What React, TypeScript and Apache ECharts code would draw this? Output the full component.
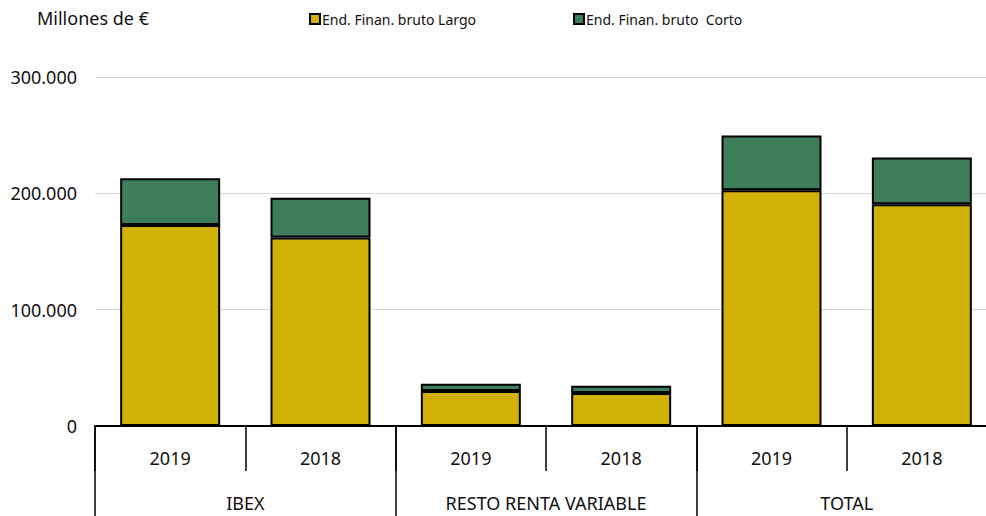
import React, { useEffect, useRef } from "react";
import * as echarts from "echarts";

const years = ["2019", "2018", "2019", "2018", "2019", "2018"];
const groups = ["IBEX", "RESTO RENTA VARIABLE", "TOTAL"];
const largo = [172700, 162100, 30000, 28300, 202700, 190600];
const corto = [40200, 34100, 6300, 6300, 47000, 40300];
const seriesNames = ["End. Finan. bruto Largo", "End. Finan. bruto  Corto"];
const yTicks = { min: 0, max: 300000, interval: 100000 };

const FONT = "'Noto Sans', 'Open Sans', sans-serif";

function fmt(v: number): string {
  return String(Math.round(v)).replace(/\B(?=(\d{3})+(?!\d))/g, ".");
}

export default function App() {
  const ref = useRef<HTMLDivElement>(null);
  useEffect(() => {
    if (!ref.current) return;
    const chart = echarts.init(ref.current, undefined, { renderer: "svg" });
    const legendText = { fontSize: 14, color: "#111", fontFamily: FONT, padding: [0, 0, 0, -3] };
    chart.setOption({
      animation: false,
      textStyle: { fontFamily: FONT },
      graphic: [
        {
          type: "text",
          left: 37,
          top: 9,
          style: { text: "Millones de €", fontSize: 18, fontFamily: FONT, fill: "#111" },
        },
      ],
      legend: [
        {
          left: 309,
          top: 12,
          padding: 0,
          icon: "rect",
          itemWidth: 10,
          itemHeight: 10,
          data: [seriesNames[0]],
          textStyle: legendText,
        },
        {
          left: 573,
          top: 12,
          padding: 0,
          icon: "rect",
          itemWidth: 10,
          itemHeight: 10,
          data: [seriesNames[1]],
          textStyle: legendText,
        },
      ],
      grid: { left: 95, right: 3, top: 77, bottom: 90, containLabel: false },
      xAxis: [
        {
          type: "category",
          data: years,
          position: "bottom",
          axisLine: { show: true, lineStyle: { color: "#000", width: 2 } },
          axisTick: { show: true, length: 45, lineStyle: { color: "#000", width: 1.5 } },
          axisLabel: { fontSize: 18, color: "#111", margin: 23, fontFamily: FONT, interval: 0 },
        },
        {
          type: "category",
          data: groups,
          position: "bottom",
          offset: 0,
          axisLine: { show: false },
          axisTick: { show: true, length: 92, interval: 0, lineStyle: { color: "#000", width: 1.5 } },
          axisLabel: { fontSize: 18, color: "#111", margin: 68, fontFamily: FONT, interval: 0 },
        },
      ],
      yAxis: {
        type: "value",
        min: yTicks.min,
        max: yTicks.max,
        interval: yTicks.interval,
        axisLine: { show: false },
        axisTick: { show: false },
        splitLine: { show: true, lineStyle: { color: "#d9d9d9", width: 1 } },
        axisLabel: { fontSize: 18, color: "#111", margin: 18, fontFamily: FONT, formatter: (v: number) => fmt(v) },
      },
      series: [
        {
          name: seriesNames[0],
          type: "bar",
          stack: "a",
          xAxisIndex: 0,
          barWidth: 100,
          data: largo,
          itemStyle: { color: "#D2B107", borderColor: "#000", borderWidth: 2 },
        },
        {
          name: seriesNames[1],
          type: "bar",
          stack: "a",
          xAxisIndex: 0,
          barWidth: 100,
          data: corto,
          itemStyle: { color: "#3E7D5A", borderColor: "#000", borderWidth: 2 },
        },
      ],
    });
    return () => chart.dispose();
  }, []);
  return (
    <div
      style={{ position: "fixed", left: 0, top: 0, width: 986, height: 516, overflow: "hidden", background: "#fff" }}
    >
      <div ref={ref} style={{ width: 1000, height: 516 }} />
    </div>
  );
}
